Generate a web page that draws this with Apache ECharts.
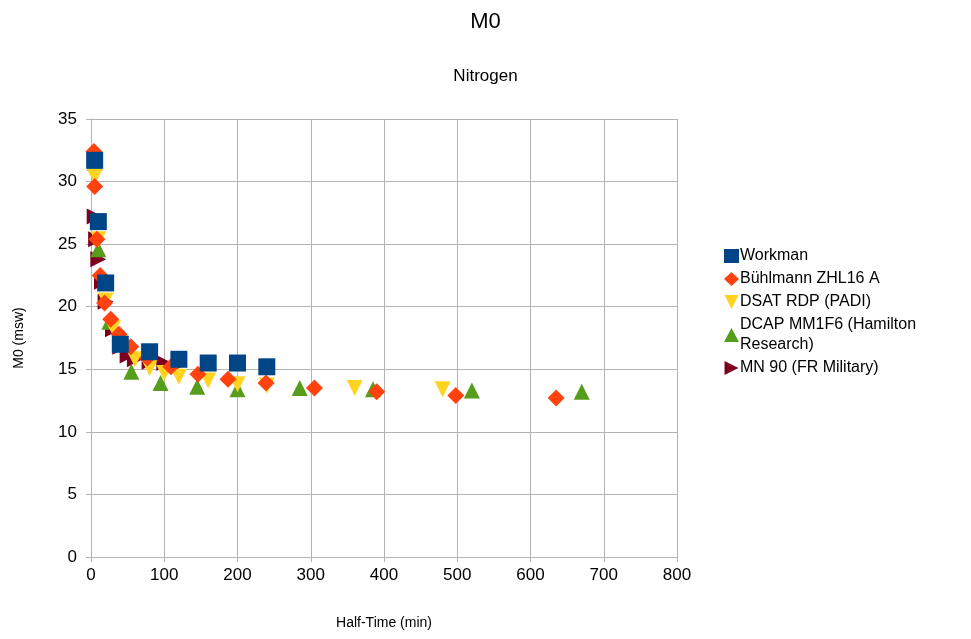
<!DOCTYPE html>
<html>
<head>
<meta charset="utf-8">
<script src="https://cdn.jsdelivr.net/npm/echarts@6/dist/echarts.min.js"></script>
<style>
  html, body { margin: 0; padding: 0; background: #fff; }
  #chart { width: 971px; height: 639px; }
</style>
</head>
<body>
<div id="chart"></div>
<script>
// Nitrogen M0 values (msw) versus compartment half-time (min)
const workmanT = [5, 10, 20, 40, 80, 120, 160, 200, 240];
const workmanM0 = [31.7, 26.8, 21.9, 17.0, 16.4, 15.8, 15.5, 15.5, 15.2];

const buhlmannT = [4, 5, 8, 12.5, 18.5, 27, 38.3, 54.3, 77, 109, 146, 187, 239, 305, 390, 498, 635];
const buhlmannM0 = [32.4, 29.6, 25.4, 22.5, 20.3, 19.0, 17.8, 16.8, 15.9, 15.2, 14.6, 14.2, 13.9, 13.5, 13.2, 12.9, 12.7];

const dsatT = [5, 10, 20, 30, 40, 60, 80, 100, 120, 160, 200, 240, 360, 480];
const dsatM0 = [30.4, 25.4, 20.5, 18.3, 17.1, 15.8, 15.1, 14.7, 14.4, 14.1, 13.8, 13.7, 13.5, 13.4];

const dcapT = [5, 10, 25, 55, 95, 145, 200, 285, 385, 520, 670];
const dcapM0 = [31.5, 24.6, 18.8, 14.8, 13.9, 13.6, 13.4, 13.5, 13.4, 13.3, 13.2];

const mn90T = [5, 7, 10, 15, 20, 30, 40, 50, 60, 80, 100, 120];
const mn90M0 = [27.2, 25.4, 23.8, 22.0, 20.4, 18.2, 16.8, 16.1, 15.8, 15.6, 15.5, 15.4];

const xTicks = [0, 100, 200, 300, 400, 500, 600, 700, 800];
const yTicks = [0, 5, 10, 15, 20, 25, 30, 35];

const seriesDefs = [
  { name: 'Workman', t: workmanT, m: workmanM0, color: '#004586', symbol: 'rect', size: 17, z: 6 },
  { name: 'Bühlmann ZHL16 A', t: buhlmannT, m: buhlmannM0, color: '#ff420e', symbol: 'diamond', size: 17, z: 5 },
  { name: 'DSAT RDP (PADI)', t: dsatT, m: dsatM0, color: '#ffd320', symbol: 'path://M0,0 L10,0 L5,10 Z', size: 16, z: 4 },
  { name: 'DCAP MM1F6 (Hamilton Research)', t: dcapT, m: dcapM0, color: '#579d1c', symbol: 'triangle', size: 16, z: 3 },
  { name: 'MN 90 (FR Military)', t: mn90T, m: mn90M0, color: '#7e0021', symbol: 'path://M0,0 L10,5 L0,10 Z', size: 16, z: 2 }
];

const FONT = '"Liberation Sans", Arial, sans-serif';
const chart = echarts.init(document.getElementById('chart'));

chart.setOption({
  backgroundColor: '#ffffff',
  animation: false,
  title: [
    { text: 'M0', left: 'center', top: 6, textStyle: { fontFamily: FONT, fontSize: 22, fontWeight: 'normal', color: '#000' } },
    { text: 'Nitrogen', left: 'center', top: 63, textStyle: { fontFamily: FONT, fontSize: 17, fontWeight: 'normal', color: '#000' } }
  ],
  grid: { left: 91, right: 294, top: 119, bottom: 82, containLabel: false },
  legend: {
    orient: 'vertical',
    left: 719,
    top: 241,
    itemWidth: 15,
    itemHeight: 14,
    itemGap: 3,
    textStyle: { fontFamily: FONT, fontSize: 16, color: '#000', lineHeight: 20, padding: [0, 0, 0, -4] },
    formatter: function (name) {
      return name === 'DCAP MM1F6 (Hamilton Research)' ? 'DCAP MM1F6 (Hamilton\nResearch)' : name;
    },
    data: seriesDefs.map(d => ({ name: d.name, icon: d.symbol }))
  },
  xAxis: {
    type: 'value',
    min: 0, max: 800, interval: 100,
    name: 'Half-Time (min)',
    nameLocation: 'middle',
    nameGap: 59,
    nameTextStyle: { fontFamily: FONT, fontSize: 14, color: '#000' },
    axisLine: { show: true, lineStyle: { color: '#b3b3b3' } },
    axisTick: { show: true, length: 5, lineStyle: { color: '#b3b3b3' } },
    axisLabel: { fontFamily: FONT, fontSize: 17, color: '#000', margin: 10 },
    splitLine: { show: true, lineStyle: { color: '#b3b3b3', width: 1 } }
  },
  yAxis: {
    type: 'value',
    min: 0, max: 35, interval: 5,
    name: 'M0 (msw)',
    nameLocation: 'middle',
    nameGap: 65,
    nameRotate: 90,
    nameTextStyle: { fontFamily: FONT, fontSize: 14, color: '#000' },
    axisLine: { show: true, lineStyle: { color: '#b3b3b3' } },
    axisTick: { show: true, length: 5, lineStyle: { color: '#b3b3b3' } },
    axisLabel: { fontFamily: FONT, fontSize: 17, color: '#000', margin: 14 },
    splitLine: { show: true, lineStyle: { color: '#b3b3b3', width: 1 } }
  },
  series: seriesDefs.map(d => ({
    name: d.name,
    type: 'scatter',
    symbol: d.symbol,
    symbolSize: d.size,
    z: d.z,
    itemStyle: { color: d.color, opacity: 1 },
    data: d.t.map((t, i) => [t, d.m[i]])
  }))
});
</script>
</body>
</html>
